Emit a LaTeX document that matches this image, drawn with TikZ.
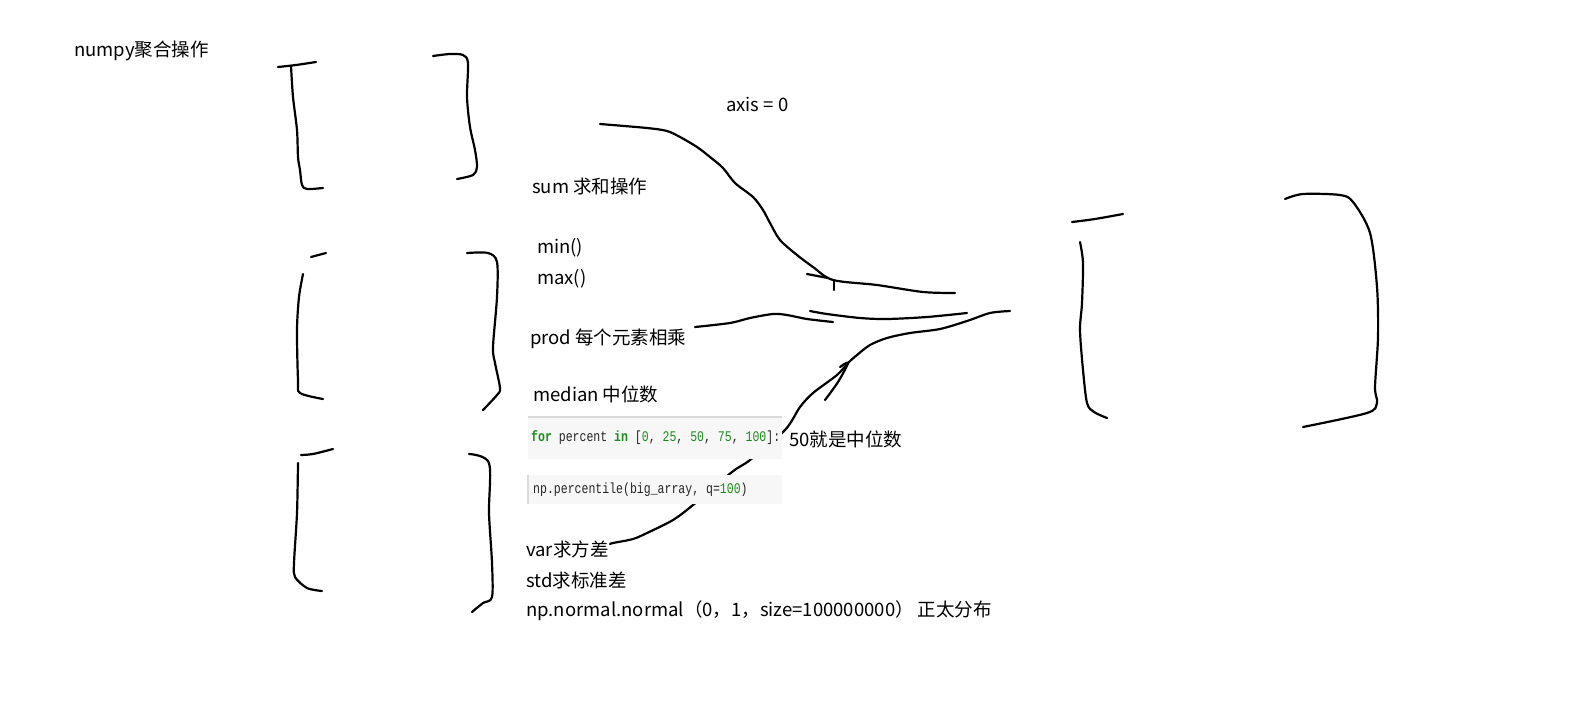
\documentclass[tikz,border=0pt]{standalone}
\usepackage{fontspec}
\setmainfont{Noto Sans CJK SC}
\setmonofont{Liberation Mono}
\definecolor{codegreen}{HTML}{1E8A1E}
\definecolor{codegray}{HTML}{262626}
\definecolor{boxbg}{HTML}{F7F7F7}
\definecolor{boxedge}{HTML}{DADADA}
\newcommand{\tallcode}[1]{\scalebox{1.02}[1.3]{#1}}
\begin{document}
\begin{tikzpicture}[x=1pt,y=-1pt,
  ink/.style={line width=2.2pt,line cap=round,line join=round},
  lbl/.style={anchor=west,inner sep=0pt,font=\fontsize{18.5}{22}\selectfont},
  code/.style={anchor=west,inner sep=0pt,font=\ttfamily\fontsize{11.3}{13}\selectfont,text=codegray},
  codebox/.style={fill=boxbg,draw=none}]
\useasboundingbox (0,0) rectangle (1578,701);
\fill[white] (0,0) rectangle (1578,701);

% ---- bracket pair 1 ----
\draw[ink] plot[smooth,tension=0.5] coordinates {(278,67) (296,65) (316,62)};
\draw[ink] plot[smooth,tension=0.5] coordinates {(291,66) (293,97) (297,130) (298,157) (300,170) (302,185) (307,189) (323,188)};
\draw[ink] plot[smooth,tension=0.5] coordinates {(433,56) (450,54) (463,55) (468,63) (467,97) (470,127) (475,150) (477,167) (473,175) (457,179)};

% ---- bracket pair 2 ----
\draw[ink] plot[smooth,tension=0.5] coordinates {(311,257) (326,253)};
\draw[ink] plot[smooth,tension=0.5] coordinates {(303,274) (299,297) (297,330) (298,380) (300,393) (323,399)};
\draw[ink] plot[smooth,tension=0.5] coordinates {(467,253) (488,253) (497,262) (497,297) (493,347) (495,363) (500,388) (497,395) (483,410)};

% ---- bracket pair 3 ----
\draw[ink] plot[smooth,tension=0.5] coordinates {(301,455) (313,454) (333,449)};
\draw[ink] plot[smooth,tension=0.5] coordinates {(298,463) (297,513) (294,563) (295,577) (307,588) (322,591)};
\draw[ink] plot[smooth,tension=0.5] coordinates {(469,454) (489,463) (489,513) (492,563) (492,597) (483,603) (472,612)};

% ---- bracket pair 4 ----
\draw[ink] plot[smooth,tension=0.5] coordinates {(1072,222) (1095,219) (1123,214)};
\draw[ink] plot[smooth,tension=0.5] coordinates {(1080,242) (1083,263) (1082,303) (1080,330) (1083,370) (1087,403) (1094,412) (1107,418)};
\draw[ink] plot[smooth,tension=0.5] coordinates {(1285,199) (1303,194) (1340,195) (1353,202) (1370,233) (1377,287) (1378,337) (1375,387) (1377,403) (1367,413) (1303,427)};

% ---- converging strokes ----
\draw[ink] plot[smooth,tension=0.5] coordinates {(600,124) (647,128) (667,131) (680,137) (697,147) (710,157) (723,168) (735,183) (753,197) (763,210) (770,223) (780,240) (797,255) (813,267) (833,280) (877,285) (923,292) (955,293)};
\draw[ink] (807,274) -- (828,278);
\draw[ink] (834,281) -- (834,290);
\draw[ink] plot[smooth,tension=0.5] coordinates {(695,327) (730,323) (750,318) (773,314) (787,315) (807,319) (833,322)};
\draw[ink] plot[smooth,tension=0.5] coordinates {(810,311) (827,314) (860,318) (887,319) (927,317) (967,313)};
\draw[ink] plot[smooth,tension=0.5] coordinates {(1010,311) (990,313) (967,321) (940,329) (910,333) (887,338) (870,345) (857,355) (848,363) (837,375) (813,393) (800,407) (785,430) (750,460) (732,472) (693,505) (673,520) (647,533) (633,539) (613,543) (610,544)};
\draw[ink] plot[smooth,tension=0.5] coordinates {(840,367) (848,363) (838,382) (825,400)};

% ---- code screenshots ----
\fill[boxbg] (528,416) rectangle (782,459);
\draw[boxedge,line width=1.2pt] (528,417) -- (782,417);
\node[code] (c1) at (531,438) {\tallcode{\textbf{\textcolor{codegreen}{for}} percent \textbf{\textcolor{codegreen}{in}} [\textcolor{codegreen}{0}, \textcolor{codegreen}{25}, \textcolor{codegreen}{50}, \textcolor{codegreen}{75}, \textcolor{codegreen}{100}]:}};
\fill[boxbg] (528,475) rectangle (782,504);
\draw[boxedge,line width=1.2pt] (528,475) -- (528,504);
\node[code] (c2) at (533,490) {\tallcode{np.percentile(big\_array, q=\textcolor{codegreen}{100})}};

% ---- labels ----
\node[lbl] (t0) at (74,51) {numpy聚合操作};
\node[lbl] (t1) at (726,104) {axis = 0};
\node[lbl] (t2) at (532,186) {sum 求和操作};
\node[lbl] (t3) at (537,248) {min()};
\node[lbl] (t4) at (537,279) {max()};
\node[lbl] (t5) at (530,339) {prod 每个元素相乘};
\node[lbl] (t6) at (533,394) {median 中位数};
\node[lbl] (t7) at (789,439) {50就是中位数};
\node[lbl] (t8) at (526,549) {var求方差};
\node[lbl] (t9) at (526,580) {std求标准差};
\node[lbl] (t10) at (526,611) {np.normal.normal（0，1，size=100000000） 正太分布};
\end{tikzpicture}
\end{document}
